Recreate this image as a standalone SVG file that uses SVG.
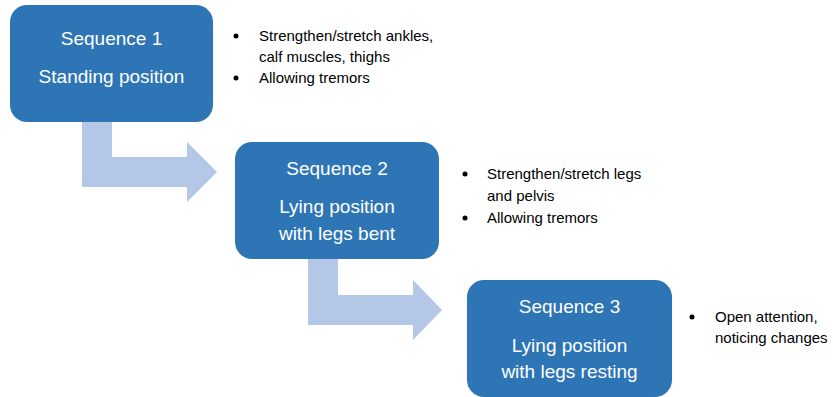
<svg xmlns="http://www.w3.org/2000/svg" width="833" height="397" viewBox="0 0 833 397">
<style>
.box{fill:#2E75B6;}
.arr{fill:#B4C7E7;}
.t{font-family:"Liberation Sans",Arial,sans-serif;font-size:19px;fill:#FFFFFF;text-anchor:middle;}
.b{font-family:"Liberation Sans",Arial,sans-serif;font-size:15px;fill:#000000;}
.dot{fill:#000000;}
</style>
<rect width="833" height="397" fill="#FFFFFF"/>
<g id="connectors">
<path class="arr" d="M82,122 L112,122 L112,157 L187,157 L187,142 L217,172 L187,202 L187,187 L82,187 Z"/>
<path class="arr" d="M308,259 L338,259 L338,295 L413,295 L413,280 L442,310 L413,340 L413,325 L308,325 Z"/>
</g>
<g id="node1">
<rect class="box" x="10" y="5" width="203" height="117" rx="17"/>
<text class="t" x="111.5" y="45">Sequence 1</text>
<text class="t" x="111.5" y="83">Standing position</text>
</g>
<g id="notes1">
<circle class="dot" cx="236" cy="36" r="2.5"/>
<text class="b" x="259" y="41">Strengthen/stretch ankles,</text>
<text class="b" x="259" y="62">calf muscles, thighs</text>
<circle class="dot" cx="236" cy="78" r="2.5"/>
<text class="b" x="259" y="83">Allowing tremors</text>
</g>
<g id="node2">
<rect class="box" x="235" y="142" width="204" height="117" rx="17"/>
<text class="t" x="337" y="175">Sequence 2</text>
<text class="t" x="337" y="213">Lying position</text>
<text class="t" x="337" y="240">with legs bent</text>
</g>
<g id="notes2">
<circle class="dot" cx="465" cy="174" r="2.5"/>
<text class="b" x="487" y="179">Strengthen/stretch legs</text>
<text class="b" x="487" y="201">and pelvis</text>
<circle class="dot" cx="465" cy="218" r="2.5"/>
<text class="b" x="487" y="223">Allowing tremors</text>
</g>
<g id="node3">
<rect class="box" x="467" y="280" width="205" height="117" rx="17"/>
<text class="t" x="569.5" y="313">Sequence 3</text>
<text class="t" x="569.5" y="352">Lying position</text>
<text class="t" x="569.5" y="378">with legs resting</text>
</g>
<g id="notes3">
<circle class="dot" cx="692" cy="317" r="2.5"/>
<text class="b" x="715" y="322">Open attention,</text>
<text class="b" x="715" y="343">noticing changes</text>
</g>
</svg>
